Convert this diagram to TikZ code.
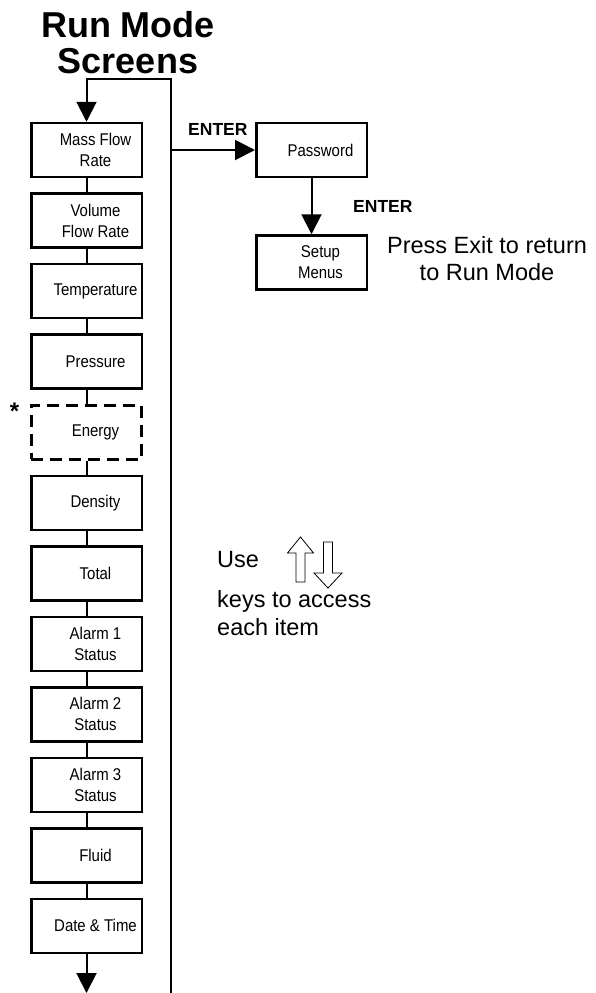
\documentclass[tikz,border=0pt]{standalone}
\usepackage{fontspec}
\setmainfont{Liberation Sans}
\newfontfamily\boxfont[FakeStretch=0.88]{Liberation Sans}
\usetikzlibrary{arrows.meta,positioning}
\tikzset{
  scr/.style={draw,line width=2.5pt,minimum width=110.5pt,minimum height=54pt,inner sep=0pt,
    label={[lbl]center:#1}},
  lbl/.style={font=\fontsize{17pt}{21pt}\boxfont,align=center,xshift=9pt,inner sep=0pt},
  conn/.style={line width=2pt},
  arr/.style={conn,-{Triangle[length=20pt,width=20pt]}},
  big/.style={font=\fontsize{23.5pt}{27pt}\selectfont,inner sep=0pt},
  key/.style={font=\fontsize{17.5pt}{20pt}\selectfont\bfseries,inner sep=0pt},
  keyarr/.style={line width=0.8pt,fill=white,line join=miter}
}
\begin{document}
\begin{tikzpicture}[x=1pt,y=-1pt]
\useasboundingbox (0,0) rectangle (595,993);
\node[font=\fontsize{36pt}{36pt}\selectfont\bfseries,align=center,inner sep=0pt] (title) at (128,43) {Run Mode\\Screens};
% run mode screens
\node[scr={Mass Flow\\Rate}] (mfr) at (86.5,150) {};
\node[scr={Volume\\Flow Rate},below=14pt of mfr] (vfr) {};
\node[scr=Temperature,below=14pt of vfr] (temp) {};
\node[scr=Pressure,below=14pt of temp] (pres) {};
\node[scr=Energy,dash pattern=on 12pt off 7pt,line width=2.8pt,below=14pt of pres] (ener) {};
\node[scr=Density,below=14pt of ener] (dens) {};
\node[scr=Total,below=14pt of dens] (tot) {};
\node[scr={Alarm 1\\Status},below=14pt of tot] (al1) {};
\node[scr={Alarm 2\\Status},below=14pt of al1] (al2) {};
\node[scr={Alarm 3\\Status},below=14pt of al2] (al3) {};
\node[scr=Fluid,below=14pt of al3] (fluid) {};
\node[scr={Date \& Time},below=14pt of fluid] (dt) {};
\node[font=\fontsize{24pt}{24pt}\selectfont\bfseries,anchor=base,inner sep=0pt] (star) at (14.5,419) {*};
% setup branch
\node[scr=Password] (pw) at (311.5,150) {};
\node[scr={Setup\\Menus},below=56pt of pw] (setup) {};
\node[key,anchor=base west] (ent1) at (188,135) {ENTER};
\node[key,anchor=base west] (ent2) at (353,212) {ENTER};
\node[big,align=center] (exit) at (487,258.5) {Press Exit to return\\to Run Mode};
% connectors
\coordinate (top) at (171,79);
\coordinate (bot) at (171,993);
\coordinate (br) at (171,150);
\coordinate (end) at (86.5,993);
\draw[arr] (bot) -- (top) -| (mfr);
\draw[conn] (mfr) -- (vfr); \draw[conn] (vfr) -- (temp);
\draw[conn] (temp) -- (pres); \draw[conn] (pres) -- (ener);
\draw[conn] (ener) -- (dens); \draw[conn] (dens) -- (tot);
\draw[conn] (tot) -- (al1); \draw[conn] (al1) -- (al2);
\draw[conn] (al2) -- (al3); \draw[conn] (al3) -- (fluid);
\draw[conn] (fluid) -- (dt);
\draw[arr] (dt) -- (end);
\draw[arr] (br) -- (pw);
\draw[arr] (pw) -- (setup);
% key hint
\node[big,anchor=base west] (use) at (217,567) {Use};
\draw[keyarr] (300.5,537) -- (313.5,553) -- (305,553) -- (305,582) -- (296,582) -- (296,553) -- (287.5,553) -- cycle;
\draw[keyarr] (328,588) -- (342,573) -- (332.5,573) -- (332.5,542) -- (323.5,542) -- (323.5,573) -- (314,573) -- cycle;
\node[big,align=left,anchor=north west,font=\fontsize{23.5pt}{28pt}\selectfont] (keys) at (217,590) {keys to access\\each item};
\end{tikzpicture}
\end{document}
